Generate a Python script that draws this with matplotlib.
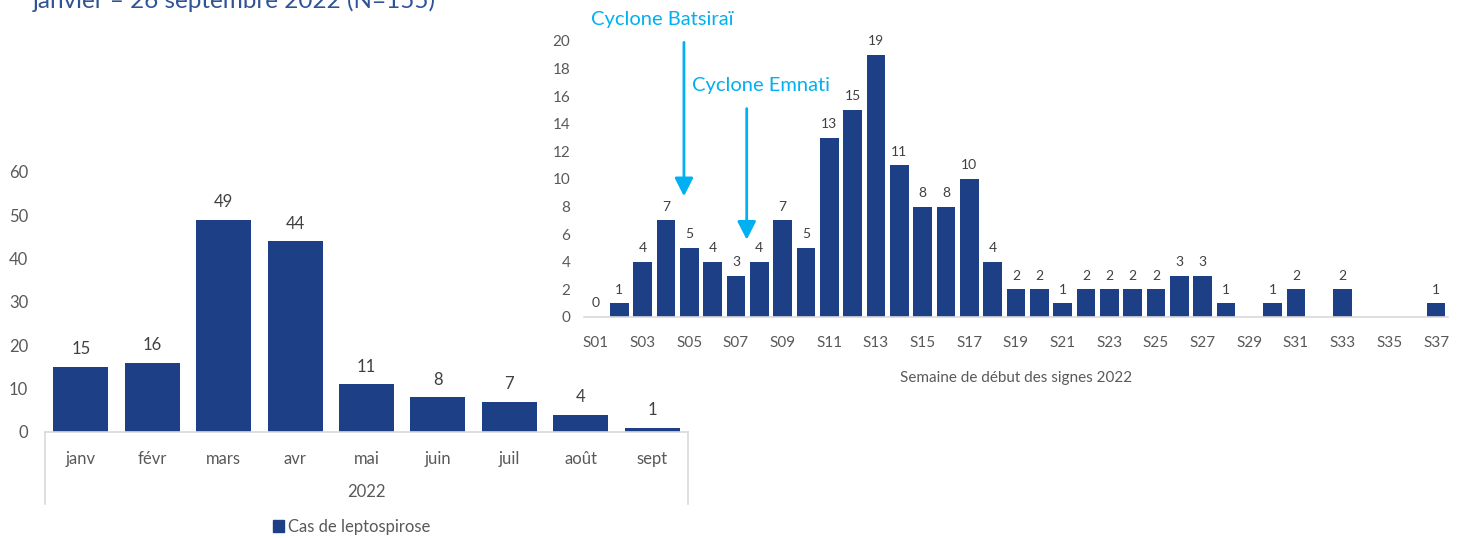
import matplotlib
matplotlib.use("Agg")
import matplotlib.pyplot as plt
from matplotlib.patches import Patch
from matplotlib.lines import Line2D

plt.rcParams['font.family'] = ['Lato', 'DejaVu Sans']

# Monthly cases
months = ["janv", "févr", "mars", "avr", "mai", "juin", "juil", "août", "sept"]
month_cases = [15, 16, 49, 44, 11, 8, 7, 4, 1]
year_label = "2022"
left_yticks = [0, 10, 20, 30, 40, 50, 60]

# Weekly cases by week of symptom onset (None = no case reported that week)
weeks = [f"S{i:02d}" for i in range(1, 38)]
week_cases = [0, 1, 4, 7, 5, 4, 3, 4, 7, 5,
              13, 15, 19, 11, 8, 8, 10, 4, 2, 2,
              1, 2, 2, 2, 2, 3, 3, 1, None, 1,
              2, None, 2, None, None, None, 1]
right_yticks = list(range(0, 21, 2))

# Cyclone events: (label, week index of arrow, arrow top, arrow tip)
cyclones = [("Cyclone Batsiraï", 3.77, 19.9, 8.75),
            ("Cyclone Emnati", 6.46, 15.1, 5.6)]

title = "janvier – 26 septembre 2022 (N=155)"
legend_label = "Cas de leptospirose"
xlabel_right = "Semaine de début des signes 2022"

BAR = "#1D3F86"
GRID = "#D9D9D9"
TXT = "#595959"
LBL = "#404040"
CYAN = "#00B0F0"

W, H = 1464, 538
fig = plt.figure(figsize=(W / 100, H / 100), dpi=100)

def frac(x0, y_top, x1, y_bot):
    return [x0 / W, 1 - y_bot / H, (x1 - x0) / W, (y_bot - y_top) / H]

# ---- monthly chart ----
ax1 = fig.add_axes(frac(45, 172, 688, 432))
xs = range(len(months))
ax1.bar(xs, month_cases, width=0.77, color=BAR)
for x, v in zip(xs, month_cases):
    ax1.text(x, v + 2.2, str(v), ha="center", va="bottom", fontsize=12, color=LBL)
ax1.set_xlim(-0.5, len(months) - 0.5)
ax1.set_ylim(0, 60)
ax1.set_yticks(left_yticks)
ax1.set_xticks(list(xs))
ax1.set_xticklabels(months)
for s in ["top", "right", "left"]:
    ax1.spines[s].set_visible(False)
ax1.spines["bottom"].set_color(GRID)
ax1.spines["bottom"].set_linewidth(1.2)
ax1.tick_params(axis="y", length=0, labelsize=12, labelcolor=TXT, pad=12)
ax1.tick_params(axis="x", length=0, labelsize=12, labelcolor=TXT, pad=14)
for xv in (-0.5, len(months) - 0.5):
    ax1.add_line(Line2D([xv, xv], [0, -16.5], color=GRID, lw=1.2, clip_on=False))
ax1.text((len(months) - 1) / 2, -13.8, year_label, ha="center", va="center",
         fontsize=12, color=TXT)

fig.legend(handles=[Patch(color=BAR, label=legend_label)], loc="center",
           bbox_to_anchor=(352 / W, 1 - 527 / H), frameon=False,
           handlelength=0.65, handleheight=0.75, handletextpad=0.25,
           fontsize=12, labelcolor=TXT)

# ---- weekly chart ----
ax2 = fig.add_axes(frac(584.3, 41, 1447.7, 317))
wx = list(range(len(weeks)))
heights = [v if v is not None else 0 for v in week_cases]
ax2.bar(wx, heights, width=0.8, color=BAR)
for x, v in zip(wx, week_cases):
    if v is not None:
        ax2.text(x, v + 0.55, str(v), ha="center", va="bottom", fontsize=10, color=LBL)
ax2.set_xlim(-0.5, len(weeks) - 0.5)
ax2.set_ylim(0, 20)
ax2.set_yticks(right_yticks)
ax2.set_xticks(wx[::2])
ax2.set_xticklabels(weeks[::2])
for s in ["top", "right", "left"]:
    ax2.spines[s].set_visible(False)
ax2.spines["bottom"].set_color(GRID)
ax2.spines["bottom"].set_linewidth(1.2)
ax2.tick_params(axis="y", length=0, labelsize=11, labelcolor=TXT, pad=10)
ax2.tick_params(axis="x", length=0, labelsize=11, labelcolor=TXT, pad=14)
ax2.set_xlabel(xlabel_right, fontsize=11, color=TXT, labelpad=15)

text_pos = [(590.7, 20), (691.7, 86)]
for (name, xi, ytop, ytip), (tx, ty) in zip(cyclones, text_pos):
    ax2.annotate("", xy=(xi, ytip), xytext=(xi, ytop),
                 arrowprops=dict(arrowstyle="-|>,head_length=0.55,head_width=0.28",
                                 mutation_scale=20, lw=2.0, color=CYAN,
                                 shrinkA=0, shrinkB=0),
                 annotation_clip=False)
    fig.text(tx / W, 1 - ty / H, name, ha="left", va="center",
             fontsize=14.5, color=CYAN)

# ---- heading (top edge of the page) ----
fig.text(33 / W, 1 - 8 / H, title, ha="left", va="baseline",
         fontsize=17.5, color="#2F5496")

fig.savefig("out.png", dpi=100)
